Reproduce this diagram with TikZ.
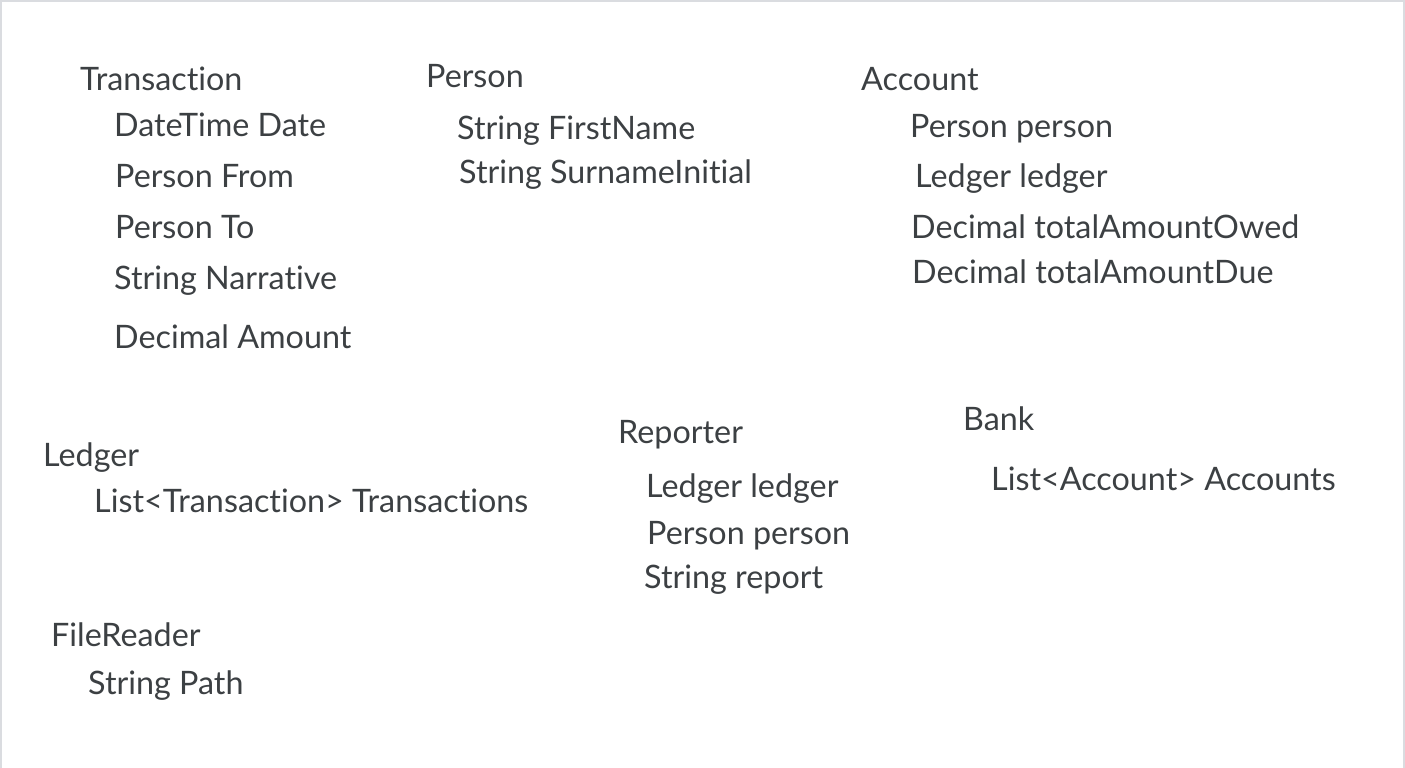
\documentclass[tikz,border=0pt]{standalone}
\usepackage{fontspec}
\setmainfont{Lato}[Ligatures={NoCommon,NoDiscretionary,NoRare},Contextuals=NoAlternate]
\definecolor{txt}{HTML}{3C4043}
\definecolor{frame}{HTML}{DADCE0}
\begin{document}
\begin{tikzpicture}[x=1pt,y=-1pt,
  lbl/.style={anchor=base west,inner sep=0pt,text=txt,font=\fontsize{32.3}{38}\selectfont}]
\useasboundingbox (0,0) rectangle (1405,768);
\draw[frame,line width=2pt] (1,768) -- (1,1) -- (1404,1) -- (1404,768);
% Transaction
\node[lbl] (t0) at (80,90) {Transaction};
\node[lbl] (t1) at (114,136) {DateTime Date};
\node[lbl] (t2) at (115,187) {Person From};
\node[lbl] (t3) at (115,238) {Person To};
\node[lbl] (t4) at (114,289) {String Narrative};
\node[lbl] (t5) at (114,348) {Decimal Amount};
% Person
\node[lbl] (p0) at (426,88) {Person};
\node[lbl] (p1) at (457,139) {String FirstName};
\node[lbl] (p2) at (459,183) {String SurnameInitial};
% Account
\node[lbl] (a0) at (861,90) {Account};
\node[lbl] (a1) at (910,137) {Person person};
\node[lbl] (a2) at (915,187) {Ledger ledger};
\node[lbl] (a3) at (911,238) {Decimal totalAmountOwed};
\node[lbl] (a4) at (912,283) {Decimal totalAmountDue};
% Ledger
\node[lbl] (l0) at (43,466) {Ledger};
\node[lbl] (l1) at (94,512) {List<Transaction> Transactions};
% Reporter
\node[lbl] (r0) at (618,443) {Reporter};
\node[lbl] (r1) at (646,497) {Ledger ledger};
\node[lbl] (r2) at (647,544) {Person person};
\node[lbl] (r3) at (644,588) {String report};
% Bank
\node[lbl] (b0) at (963,430) {Bank};
\node[lbl] (b1) at (991,490) {List<Account> Accounts};
% FileReader
\node[lbl] (f0) at (51,646) {FileReader};
\node[lbl] (f1) at (88,694) {String Path};
\end{tikzpicture}
\end{document}
